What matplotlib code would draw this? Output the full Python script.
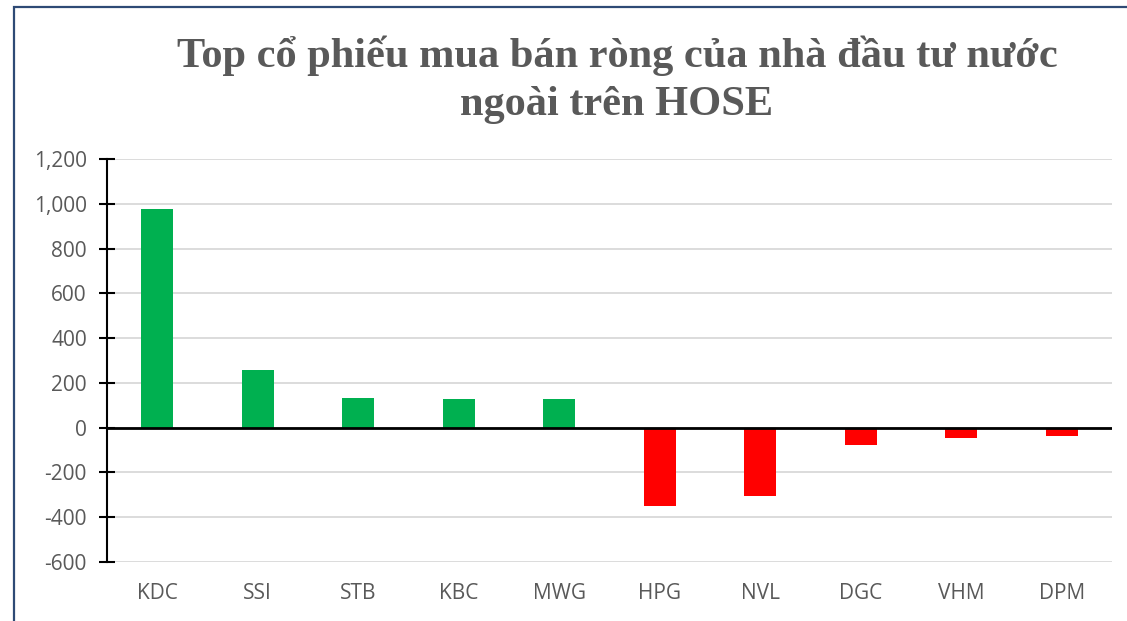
import matplotlib
matplotlib.use("Agg")
import matplotlib.pyplot as plt
from matplotlib.patches import Rectangle

categories = ["KDC", "SSI", "STB", "KBC", "MWG", "HPG", "NVL", "DGC", "VHM", "DPM"]
values = [975, 258, 134, 130, 128, -351, -307, -79, -48, -39]
yticks = [-600, -400, -200, 0, 200, 400, 600, 800, 1000, 1200]
title = "Top cổ phiếu mua bán ròng của nhà đầu tư nước\nngoài trên HOSE"

W, H = 1127, 621
fig = plt.figure(figsize=(W / 100, H / 100), dpi=100)
fig.patch.set_facecolor("white")

# outer border (cropped on right and bottom)
fig.patches.append(Rectangle((14 / W, -0.1), 1.2, 1 - 7 / H + 0.1,
                             transform=fig.transFigure, fill=False,
                             edgecolor="#2E4A75", linewidth=1.6))

ax = fig.add_axes([107 / W, 1 - 562 / H, (1112 - 107) / W, (562 - 159) / H])
colors = ["#00B050" if v >= 0 else "#FF0000" for v in values]
x = list(range(len(categories)))
ax.bar(x, values, width=0.32, color=colors, zorder=3)
ax.set_xlim(-0.5, len(categories) - 0.5)
ax.set_ylim(-600, 1200)
ax.set_yticks(yticks)
ax.set_yticklabels([f"{t:,}" for t in yticks])
ax.set_xticks(x)
ax.set_xticklabels(categories)

ax.grid(axis="y", color="#D9D9D9", linewidth=1.3, zorder=0)
ax.axhline(0, color="black", linewidth=2, zorder=4)
for s in ["top", "right", "bottom"]:
    ax.spines[s].set_visible(False)
ax.spines["left"].set_color("black")
ax.spines["left"].set_linewidth(1.5)
ax.spines["left"].set_zorder(5)

ax.tick_params(axis="y", direction="inout", length=11, width=1.5, color="black",
               labelsize=15, labelcolor="#595959", pad=9)
ax.tick_params(axis="x", length=0, labelsize=15, labelcolor="#595959", pad=15)
for lab in ax.get_xticklabels() + ax.get_yticklabels():
    lab.set_fontfamily("Open Sans")

fig.text(617 / W, 1 - 80 / H, title, ha="center", va="center",
         fontsize=30.5, fontweight="bold", color="#595959",
         fontfamily="Liberation Serif", linespacing=1.33)

fig.savefig("out.png", dpi=100)
